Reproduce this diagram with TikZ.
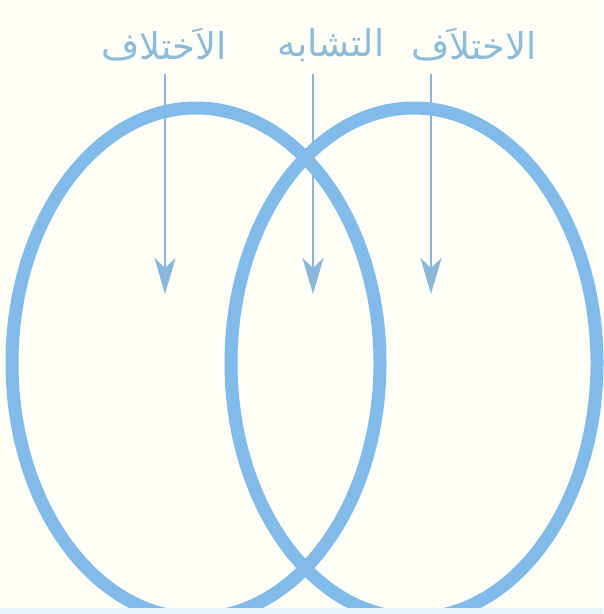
\documentclass[tikz,border=0pt]{standalone}
\usepackage{fontspec}
\newfontfamily\arabicfont[Script=Arabic]{DejaVu Sans}
\TeXXeTstate=1
\usetikzlibrary{arrows.meta}
\definecolor{ringblue}{HTML}{80BBEA}
\definecolor{arrowblue}{HTML}{8AB8DA}
\definecolor{textblue}{HTML}{8DBCDB}
\definecolor{paper}{HTML}{FEFDF6}
\definecolor{strip}{HTML}{E8F5F8}
\tikzset{
  ring/.style={draw=ringblue, line width=0.26cm},
  pointer/.style={draw=arrowblue, line width=0.055cm,
    -{Stealth[length=0.72cm, width=0.42cm, inset=0.2cm]}},
  label/.style={text=textblue, font=\arabicfont\fontsize{21}{25}\selectfont,
    inner sep=0pt}
}
\begin{document}
\begin{tikzpicture}[x=0.02cm, y=-0.02cm]
    % page
    \fill[paper] (0,0) rectangle (603,614);
    \useasboundingbox (0,0) rectangle (603,614);
    % the two rings
    \draw[ring] (196,363) ellipse (184 and 255);
    \draw[ring] (414,363) ellipse (183 and 255);
    % strip along the bottom
    \fill[strip] (0,608) rectangle (603,614);
    % headings
    \node[label] (diffL) at (164,45) {\beginR الاَختلاف\endR};
    \node[label] (same)  at (331,45) {\beginR التشابه\endR};
    \node[label] (diffR) at (474,45) {\beginR الاختلاَف\endR};
    % arrow ends
    \coordinate (fromL) at (165,74);
    \coordinate (toL)   at (165,294);
    \coordinate (fromM) at (313,74);
    \coordinate (toM)   at (313,294);
    \coordinate (fromR) at (431,74);
    \coordinate (toR)   at (431,294);
    \draw[pointer] (fromL) -- (toL);
    \draw[pointer] (fromM) -- (toM);
    \draw[pointer] (fromR) -- (toR);
\end{tikzpicture}
\end{document}
